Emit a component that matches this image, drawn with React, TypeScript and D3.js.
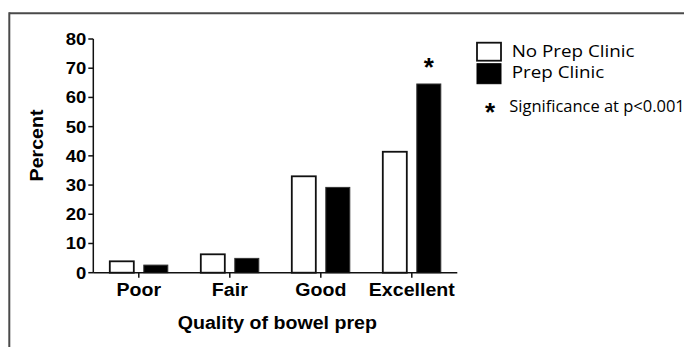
import React from "react";
import * as d3 from "d3";

// Quality of bowel preparation by clinic attendance (percent of patients)
const categories = ["Poor", "Fair", "Good", "Excellent"];
const seriesNames = ["No Prep Clinic", "Prep Clinic"];
const noPrepClinic = [3.9, 6.3, 33.0, 41.4];
const prepClinic = [2.6, 4.9, 29.2, 64.6];
const significant = [false, false, false, true];
const yTicks = [0, 10, 20, 30, 40, 50, 60, 70, 80];
const significanceNote = "Significance at p<0.001";
const xTitle = "Quality of bowel prep";
const yTitle = "Percent";

const W = 684;
const H = 347;
const plot = { left: 93.3, right: 457.3, top: 39, bottom: 272.7 };

const axisFont = "'Liberation Sans', Arial, sans-serif";
const legendFont = "'Open Sans', 'Noto Sans', sans-serif";
const stretch = 1.12;
const legendStretch = 1.14;

export default function App() {
  const x = d3
    .scaleBand<string>()
    .domain(categories)
    .range([plot.left, plot.right])
    .paddingInner(0)
    .paddingOuter(0);
  const y = d3.scaleLinear().domain([0, 80]).range([plot.bottom, plot.top]);

  const inner = d3
    .scaleBand<number>()
    .domain([0, 1])
    .range([-29, 29])
    .paddingInner(0.294)
    .paddingOuter(0);

  const series = [noPrepClinic, prepClinic];
  const fills = ["#ffffff", "#000000"];

  const stroke = "#111";

  return (
    <div style={{ position: "absolute", left: 0, top: 0, background: "#fff" }}>
      <svg width={W} height={H} viewBox={`0 0 ${W} ${H}`} style={{ display: "block" }}>
        <rect x={0} y={0} width={W} height={H} fill="#fff" />

        {/* frame */}
        <line x1={9.3} y1={13.3} x2={W} y2={13.3} stroke="#4a4a4a" strokeWidth={2} />
        <line x1={9.3} y1={12.3} x2={9.3} y2={H} stroke="#4a4a4a" strokeWidth={2} />

        {/* bars */}
        {categories.map((c, i) => {
          const cx = (x(c) as number) + x.bandwidth() / 2;
          return (
            <g key={c}>
              {series.map((s, k) => {
                const x0 = cx + (inner(k) as number);
                const top = y(s[i]);
                return (
                  <rect
                    key={k}
                    x={x0}
                    y={top}
                    width={inner.bandwidth()}
                    height={y(0) - top}
                    fill={fills[k]}
                    stroke={k === 0 ? stroke : "#333"}
                    strokeWidth={k === 0 ? 1.8 : 1}
                  />
                );
              })}
              {significant[i] && (
                <text
                  x={cx + (inner(1) as number) + inner.bandwidth() / 2}
                  y={y(Math.max(noPrepClinic[i], prepClinic[i])) - 8}
                  textAnchor="middle"
                  fontFamily={axisFont}
                  fontWeight="bold"
                  fontSize={26}
                  fill="#000"
                >
                  *
                </text>
              )}
            </g>
          );
        })}

        {/* y axis */}
        <line x1={plot.left} y1={plot.top} x2={plot.left} y2={plot.bottom} stroke={stroke} strokeWidth={1.5} />
        {yTicks.map((t) => (
          <g key={t}>
            <line x1={plot.left - 5} y1={y(t)} x2={plot.left} y2={y(t)} stroke={stroke} strokeWidth={1.5} />
            <g transform={`translate(${plot.left - 7},${y(t) + 6}) scale(${stretch},1)`}>
              <text
                textAnchor="end"
                fontFamily={axisFont}
                fontWeight="bold"
                fontSize={16.5}
                fill="#000"
              >
                {t}
              </text>
            </g>
          </g>
        ))}

        {/* x axis */}
        <line x1={plot.left} y1={plot.bottom} x2={plot.right} y2={plot.bottom} stroke={stroke} strokeWidth={1.5} />
        {categories.map((c) => {
          const cx = (x(c) as number) + x.bandwidth() / 2;
          return (
            <g key={c}>
              <line x1={cx} y1={plot.bottom} x2={cx} y2={plot.bottom + 5} stroke={stroke} strokeWidth={1.5} />
              <g transform={`translate(${cx},${296}) scale(${stretch},1)`}>
                <text textAnchor="middle" fontFamily={axisFont} fontWeight="bold" fontSize={17.5} fill="#000">
                  {c}
                </text>
              </g>
            </g>
          );
        })}

        {/* axis titles */}
        <g transform={`translate(${(plot.left + plot.right) / 2 + 2},${328.5}) scale(${stretch},1)`}>
          <text textAnchor="middle" fontFamily={axisFont} fontWeight="bold" fontSize={17.5} fill="#000">
            {xTitle}
          </text>
        </g>
        <g transform={`translate(${43},${145.5}) rotate(-90) scale(${stretch},1)`}>
          <text textAnchor="middle" fontFamily={axisFont} fontWeight="bold" fontSize={17.5} fill="#000">
            {yTitle}
          </text>
        </g>

        {/* legend */}
        {seriesNames.map((name, k) => (
          <g key={name} transform={`translate(477,${42.7 + k * 21})`}>
            <rect
              x={0}
              y={0}
              width={24}
              height={k === 0 ? 18 : 20}
              fill={fills[k]}
              stroke={k === 0 ? stroke : "#000"}
              strokeWidth={k === 0 ? 1.8 : 1}
            />
            <g transform={`translate(34.7,14.5) scale(${legendStretch},1)`}>
              <text fontFamily={legendFont} fontSize={16.5} fill="#000">
                {name}
              </text>
            </g>
          </g>
        ))}
        <text
          x={490}
          y={121}
          textAnchor="middle"
          fontFamily={axisFont}
          fontWeight="bold"
          fontSize={26}
          fill="#000"
        >
          *
        </text>
        <g transform={`translate(509.3,111.7) scale(1.03,1)`}>
          <text fontFamily={legendFont} fontSize={16} fill="#000">
            {significanceNote}
          </text>
        </g>
      </svg>
    </div>
  );
}
